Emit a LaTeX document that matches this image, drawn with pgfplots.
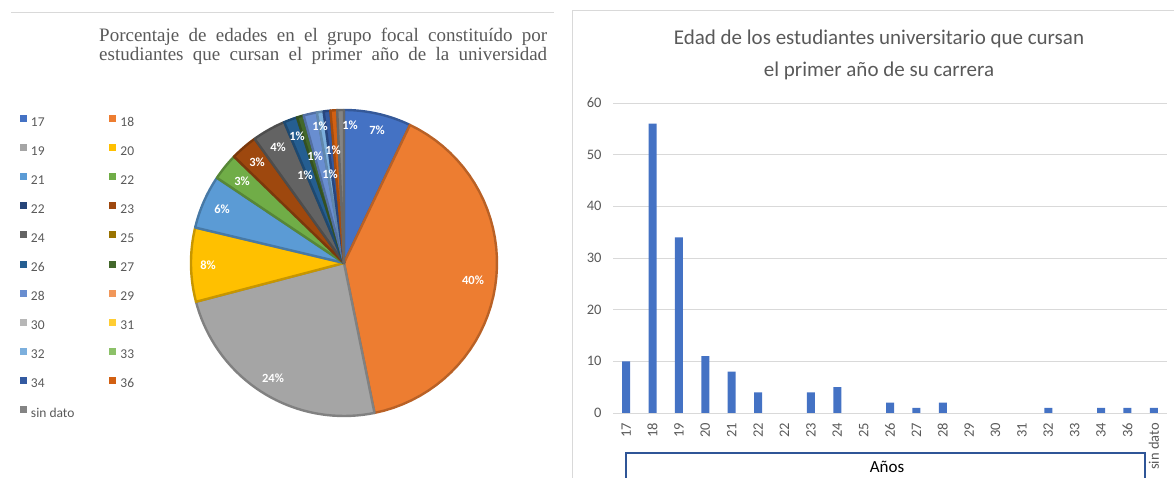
\documentclass[border=0pt]{standalone}
\usepackage{pgfplots}
\pgfplotsset{compat=1.18}
\usepackage{pgfplotstable}
\usepackage{fontspec}
\setmainfont{Carlito}
\newfontfamily\seriff{Liberation Serif}

\definecolor{textg}{HTML}{595959}
\definecolor{lineg}{HTML}{D9D9D9}
\definecolor{boxblue}{HTML}{2F5597}
\definecolor{c17}{HTML}{4472C4}
\definecolor{c18}{HTML}{ED7D31}
\definecolor{c19}{HTML}{A5A5A5}
\definecolor{c20}{HTML}{FFC000}
\definecolor{c21}{HTML}{5B9BD5}
\definecolor{c22}{HTML}{70AD47}
\definecolor{c22b}{HTML}{264478}
\definecolor{c23}{HTML}{9E480E}
\definecolor{c24}{HTML}{636363}
\definecolor{c25}{HTML}{997300}
\definecolor{c26}{HTML}{255E91}
\definecolor{c27}{HTML}{43682B}
\definecolor{c28}{HTML}{698ED0}
\definecolor{c29}{HTML}{F1975A}
\definecolor{c30}{HTML}{B7B7B7}
\definecolor{c31}{HTML}{FFCD33}
\definecolor{c32}{HTML}{7CAFDD}
\definecolor{c33}{HTML}{8CC168}
\definecolor{c34}{HTML}{335AA1}
\definecolor{c36}{HTML}{D26012}
\definecolor{csd}{HTML}{848484}

% counts per age (categories 0..20)
\pgfplotstableread{
x y
0 10
1 56
2 34
3 11
4 8
5 4
6 0
7 4
8 5
9 0
10 2
11 1
12 2
13 0
14 0
15 0
16 1
17 0
18 1
19 1
20 1
}\bardata

% pie slice: cumulative start count, end count (total 141), colour
\newcommand{\slice}[3]{%
  \addplot[forget plot, fill=#3, draw=#3!78!black, line width=2.4pt, line join=round,
    domain=#1:#2, samples=40, variable=\t]
    ({153*sin(\t*360/141)},{153*cos(\t*360/141)}) -- (axis cs:0,0) -- cycle;}

\begin{document}
\begin{tikzpicture}
\useasboundingbox (0pt,0pt) rectangle (1174pt,478pt);

% bar chart
\begin{axis}[at={(613pt,65pt)}, anchor=south west, scale only axis, width=554pt, height=310pt,
  ybar, bar width=8pt, xmin=-0.5, xmax=20.5, ymin=0, ymax=60,
  ytick={0,10,...,60}, xtick={0,...,20},
  xticklabels={17,18,19,20,21,22,22,23,24,25,26,27,28,29,30,31,32,33,34,36,sin dato},
  axis line style={draw=none}, major tick length=0pt, tick style={draw=none},
  ymajorgrids, grid style={draw=lineg, line width=0.8pt},
  /pgf/number format/assume math mode=true,
  y tick label style={font=\fontsize{14.5}{14.5}\selectfont, text=textg, xshift=-8pt},
  x tick label style={font=\fontsize{14.5}{14.5}\selectfont, text=textg, yshift=-6.5pt, rotate=90, anchor=east}]
\addplot[fill=c17, draw=none, restrict y to domain=0.5:100] table[x=x, y=y] {\bardata};
\end{axis}

% panel frames
\draw[color=lineg, line width=0.8pt] (11pt,465.5pt) -- (554pt,465.5pt);
\draw[color=lineg, line width=0.8pt] (572.5pt,0pt) -- (572.5pt,468pt) -- (1174pt,468pt);

% left title
\node[anchor=base west, inner sep=0pt, text=textg, font=\seriff\fontsize{19}{19}\selectfont] at (99pt,436pt)
  {\makebox[448pt][s]{Porcentaje de edades en el grupo focal constituído por}};
\node[anchor=base west, inner sep=0pt, text=textg, font=\seriff\fontsize{19}{19}\selectfont] at (99pt,417pt)
  {\makebox[448pt][s]{estudiantes que cursan el primer año de la universidad}};

% pie
\begin{axis}[at={(344pt,215pt)}, anchor=center, scale only axis, x=1pt, y=1pt,
  xmin=-160, xmax=160, ymin=-160, ymax=160, hide axis, clip=false,
  legend columns=2, legend cell align=left,
  legend image code/.code={\fill[#1] (0pt,0.75pt) rectangle (7pt,7.75pt);},
  legend style={at={(axis cs:-324,147.7)}, anchor=north west, draw=none, fill=none,
    inner sep=0pt, outer sep=0pt, font=\fontsize{13.5}{14}\selectfont, text=textg,
    row sep=14.8pt, nodes={inner sep=0pt, text height=10pt, text depth=3pt},
    /tikz/every odd column/.append style={column sep=4pt},
    /tikz/every even column/.append style={column sep=35pt}}]
\slice{0}{10}{c17}
\slice{10}{66}{c18}
\slice{66}{100}{c19}
\slice{100}{111}{c20}
\slice{111}{119}{c21}
\slice{119}{123}{c22}
\slice{123}{127}{c23}
\slice{127}{132}{c24}
\slice{132}{134}{c26}
\slice{134}{135}{c27}
\slice{135}{137}{c28}
\slice{137}{138}{c32}
\slice{138}{139}{c34}
\slice{139}{140}{c36}
\slice{140}{141}{csd}
\addlegendimage{fill=c17,draw=none}\addlegendentry{17}
\addlegendimage{fill=c18,draw=none}\addlegendentry{18}
\addlegendimage{fill=c19,draw=none}\addlegendentry{19}
\addlegendimage{fill=c20,draw=none}\addlegendentry{20}
\addlegendimage{fill=c21,draw=none}\addlegendentry{21}
\addlegendimage{fill=c22,draw=none}\addlegendentry{22}
\addlegendimage{fill=c22b,draw=none}\addlegendentry{22}
\addlegendimage{fill=c23,draw=none}\addlegendentry{23}
\addlegendimage{fill=c24,draw=none}\addlegendentry{24}
\addlegendimage{fill=c25,draw=none}\addlegendentry{25}
\addlegendimage{fill=c26,draw=none}\addlegendentry{26}
\addlegendimage{fill=c27,draw=none}\addlegendentry{27}
\addlegendimage{fill=c28,draw=none}\addlegendentry{28}
\addlegendimage{fill=c29,draw=none}\addlegendentry{29}
\addlegendimage{fill=c30,draw=none}\addlegendentry{30}
\addlegendimage{fill=c31,draw=none}\addlegendentry{31}
\addlegendimage{fill=c32,draw=none}\addlegendentry{32}
\addlegendimage{fill=c33,draw=none}\addlegendentry{33}
\addlegendimage{fill=c34,draw=none}\addlegendentry{34}
\addlegendimage{fill=c36,draw=none}\addlegendentry{36}
\addlegendimage{fill=csd,draw=none}\addlegendentry{sin dato}
\begin{scope}[every node/.style={text=white, font=\bfseries\fontsize{12.5}{13}\selectfont, inner sep=0pt}]
\node at (axis cs:129,-17) {40\%};
\node at (axis cs:-71,-115) {24\%};
\node at (axis cs:-136,-2) {8\%};
\node at (axis cs:-122,54) {6\%};
\node at (axis cs:-102,82) {3\%};
\node at (axis cs:-87,101) {3\%};
\node at (axis cs:-66,116) {4\%};
\node at (axis cs:33,133) {7\%};
\node at (axis cs:6,138) {1\%};
\node at (axis cs:-24,137) {1\%};
\node at (axis cs:-47,127) {1\%};
\node at (axis cs:-29,107) {1\%};
\node at (axis cs:-11,113) {1\%};
\node at (axis cs:-39,88) {1\%};
\node at (axis cs:-14,89) {1\%};
\end{scope}
\end{axis}

% right title
\node[anchor=base, inner sep=0pt, text=textg, font=\fontsize{21}{21}\selectfont] at (879pt,433pt)
  {Edad de los estudiantes universitario que cursan};
\node[anchor=base, inner sep=0pt, text=textg, font=\fontsize{21}{21}\selectfont] at (879pt,401pt)
  {el primer año de su carrera};

% axis title box
\draw[color=boxblue, line width=1.4pt] (626pt,-2pt) -- (626pt,25pt) -- (1145pt,25pt) -- (1145pt,-2pt);
\node[anchor=base, inner sep=0pt, font=\fontsize{17}{17}\selectfont] at (887pt,5pt) {Años};

\end{tikzpicture}
\end{document}
